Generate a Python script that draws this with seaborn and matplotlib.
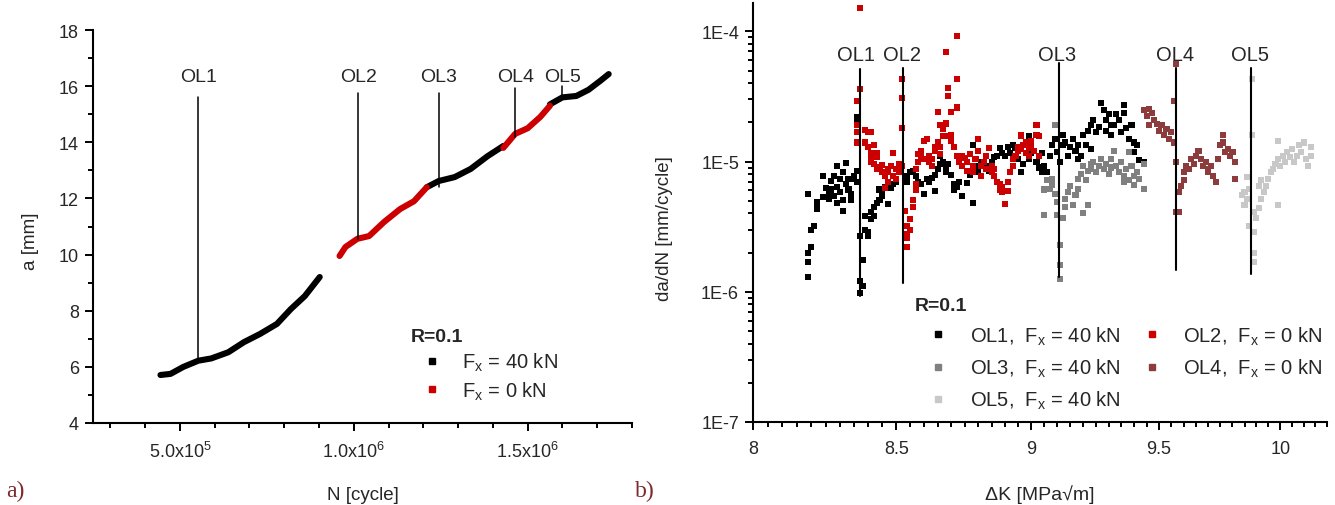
import matplotlib
matplotlib.use("Agg")
import numpy as np
import pandas as pd
import matplotlib.pyplot as plt
import seaborn as sns
from matplotlib.lines import Line2D
from matplotlib.ticker import FixedLocator, MultipleLocator, NullFormatter, FuncFormatter, LogLocator

# --- panel a): crack length vs cycles (segments alternate F_x = 40 kN / 0 kN)
seg1_N = [4.44e5, 4.73e5, 5.10e5, 5.53e5, 5.90e5, 6.39e5, 6.84e5, 7.30e5, 7.79e5, 8.19e5, 8.59e5, 9.02e5]
seg1_a = [5.71, 5.75, 6.00, 6.22, 6.30, 6.52, 6.88, 7.17, 7.53, 8.06, 8.52, 9.20]
seg2_N = [9.59e5, 9.76e5, 1.01e6, 1.044e6, 1.087e6, 1.133e6, 1.173e6, 1.21e6]
seg2_a = [9.95, 10.27, 10.56, 10.66, 11.16, 11.62, 11.90, 12.40]
seg3_N = [1.21e6, 1.244e6, 1.29e6, 1.336e6, 1.384e6, 1.43e6]
seg3_a = [12.40, 12.62, 12.76, 13.05, 13.50, 13.87]
seg4_N = [1.43e6, 1.464e6, 1.50e6, 1.536e6, 1.564e6]
seg4_a = [13.80, 14.30, 14.50, 14.90, 15.30]
seg5_N = [1.564e6, 1.60e6, 1.64e6, 1.675e6, 1.71e6, 1.733e6]
seg5_a = [15.35, 15.60, 15.65, 15.87, 16.20, 16.43]
seg_load = ["40", "0", "40", "0", "40"]

# overload markers in panel a): N, top of line, bottom of line
ol_names = ["OL1", "OL2", "OL3", "OL4", "OL5"]
olA_N = [5.53e5, 1.013e6, 1.244e6, 1.464e6, 1.60e6]
olA_top = [15.6, 15.75, 15.75, 15.93, 16.0]
olA_bot = [6.22, 10.55, 12.4, 14.2, 15.6]
olA_label_a = 16.35

# --- panel b): da/dN vs dK, (dK, da/dN) pairs
ol1_pts = [(8.19, 5.6e-6), (8.20, 3.0e-6), (8.21, 3.2e-6), (8.20, 2.2e-6), (8.19, 2.0e-6), (8.19, 1.7e-6), (8.19, 1.3e-6),
           (8.22, 4.3e-6), (8.22, 4.9e-6), (8.22, 4.8e-6), (8.24, 5.3e-6), (8.24, 7.8e-6), (8.25, 6.3e-6), (8.26, 5.6e-6),
           (8.26, 5.2e-6), (8.27, 7.1e-6), (8.27, 6.1e-6), (8.28, 5.4e-6), (8.28, 7.7e-6), (8.29, 6.4e-6), (8.29, 9.3e-6),
           (8.29, 4.8e-6), (8.30, 5.8e-6), (8.30, 7.3e-6), (8.31, 8.3e-6), (8.31, 4.2e-6), (8.31, 5.1e-6), (8.32, 6.7e-6),
           (8.32, 9.7e-6), (8.33, 7.3e-6), (8.33, 6.1e-6), (8.34, 5.6e-6), (8.34, 5.1e-6), (8.35, 7.7e-6), (8.35, 7.3e-6),
           (8.36, 8.4e-6), (8.36, 7.0e-6), (8.36, 2.2e-5), (8.36, 2.0e-5), (8.37, 2.7e-6), (8.37, 1.2e-6), (8.38, 1.1e-6),
           (8.37, 9.8e-7), (8.38, 1.75e-6), (8.39, 3.0e-6), (8.39, 3.8e-6), (8.40, 2.9e-6), (8.40, 2.7e-6), (8.41, 3.6e-6),
           (8.41, 4.1e-6), (8.42, 3.8e-6), (8.42, 4.5e-6), (8.43, 4.8e-6), (8.44, 5.1e-6), (8.44, 6.1e-6), (8.45, 5.4e-6),
           (8.45, 5.8e-6), (8.46, 6.4e-6), (8.47, 4.7e-6), (8.47, 6.9e-6), (8.48, 6.3e-6), (8.49, 6.7e-6), (8.50, 7.0e-6),
           (8.54, 7.7e-6), (8.54, 7.0e-6), (8.55, 8.3e-6), (8.56, 8.4e-6), (8.57, 7.7e-6), (8.58, 7.0e-6), (8.59, 6.7e-6),
           (8.60, 5.6e-6), (8.61, 7.3e-6), (8.62, 7.0e-6), (8.63, 7.5e-6), (8.64, 5.9e-6), (8.64, 7.9e-6), (8.65, 8.7e-6),
           (8.66, 1.1e-5), (8.66, 9.6e-6), (8.67, 1.0e-5), (8.68, 9.0e-6), (8.68, 8.3e-6), (8.69, 9.6e-6), (8.70, 7.9e-6),
           (8.71, 6.1e-6), (8.71, 6.7e-6), (8.72, 6.4e-6), (8.73, 7.0e-6), (8.74, 5.4e-6), (8.76, 6.9e-6), (8.77, 7.9e-6),
           (8.78, 4.8e-6), (8.78, 1.35e-5), (8.79, 9.2e-6), (8.80, 8.3e-6), (8.81, 9.9e-6), (8.83, 9.2e-6), (8.84, 8.4e-6),
           (8.85, 9.9e-6), (8.86, 1.08e-5), (8.87, 1.1e-5), (8.88, 1.27e-5), (8.89, 1.17e-5), (8.90, 1.1e-5), (8.91, 1.3e-5),
           (8.92, 1.17e-5), (8.93, 1.35e-5), (8.94, 1.27e-5), (8.95, 1.04e-5), (8.96, 8.3e-6), (8.97, 9.6e-6), (8.99, 1.56e-5),
           (8.99, 1.04e-5), (9.00, 1.17e-5), (9.02, 9.9e-6), (9.03, 9.0e-6), (9.04, 1.17e-5), (9.04, 8.3e-6), (9.05, 9.2e-6),
           (9.06, 8.3e-6), (9.07, 1.1e-5), (9.08, 1.33e-5), (9.09, 1.5e-5), (9.10, 1.18e-5), (9.11, 1.0e-5), (9.12, 1.6e-5),
           (9.12, 1.33e-5), (9.13, 1.4e-5), (9.14, 1.1e-5), (9.15, 1.3e-5), (9.16, 1.5e-5), (9.17, 1.2e-5), (9.18, 1.05e-5),
           (9.18, 1.33e-5), (9.19, 1.1e-5), (9.20, 1.6e-5), (9.21, 1.33e-5), (9.22, 1.73e-5), (9.23, 1.25e-5), (9.23, 1.9e-5),
           (9.24, 2.1e-5), (9.25, 1.7e-5), (9.26, 1.85e-5), (9.27, 2.8e-5), (9.28, 2.5e-5), (9.29, 2.1e-5), (9.29, 1.73e-5),
           (9.30, 2.3e-5), (9.31, 1.9e-5), (9.31, 1.6e-5), (9.32, 1.9e-5), (9.33, 2.3e-5), (9.34, 2.1e-5), (9.35, 1.7e-5),
           (9.36, 2.35e-5), (9.36, 2.7e-5), (9.37, 1.8e-5), (9.38, 1.5e-5), (9.39, 1.9e-5), (9.40, 1.4e-5), (9.40, 1.18e-5),
           (9.41, 1.33e-5), (9.42, 1.02e-5), (9.44, 1.0e-5)]
ol2_pts = [(8.37, 1.5e-4), (8.37, 3.6e-5), (8.36, 2.9e-5), (8.36, 1.9e-5), (8.36, 1.7e-5), (8.36, 1.4e-5), (8.39, 1.75e-5),
           (8.40, 1.7e-5), (8.41, 1.7e-5), (8.39, 1.4e-5), (8.40, 1.3e-5), (8.42, 1.35e-5), (8.41, 1.17e-5), (8.41, 1.1e-5),
           (8.43, 1.16e-5), (8.43, 1.08e-5), (8.41, 9.9e-6), (8.42, 9.6e-6), (8.49, 1.16e-5), (8.43, 8.7e-6), (8.44, 9.0e-6),
           (8.45, 8.3e-6), (8.45, 9.4e-6), (8.46, 7.7e-6), (8.47, 8.7e-6), (8.47, 7.0e-6), (8.46, 6.3e-6), (8.47, 8.3e-6),
           (8.48, 9.2e-6), (8.49, 7.7e-6), (8.50, 8.7e-6), (8.50, 7.3e-6), (8.51, 9.6e-6), (8.51, 8.3e-6), (8.52, 9.2e-6),
           (8.52, 4.3e-5), (8.52, 3.1e-5), (8.52, 1.8e-5), (8.53, 4.2e-6), (8.54, 3.2e-6), (8.54, 2.6e-6), (8.54, 2.2e-6),
           (8.54, 2.8e-6), (8.55, 3.0e-6), (8.55, 3.6e-6), (8.56, 4.5e-6), (8.56, 5.1e-6), (8.57, 6.1e-6), (8.57, 6.7e-6),
           (8.57, 8.7e-6), (8.58, 9.9e-6), (8.58, 1.14e-5), (8.59, 1.08e-5), (8.59, 1.2e-5), (8.60, 1.04e-5), (8.60, 1.44e-5),
           (8.61, 1.5e-5), (8.62, 9.9e-6), (8.62, 1.1e-5), (8.63, 9.2e-6), (8.63, 1.04e-5), (8.64, 1.3e-5), (8.64, 1.2e-5),
           (8.65, 2.4e-5), (8.65, 1.4e-5), (8.66, 1.9e-5), (8.66, 1.14e-5), (8.66, 1.3e-5), (8.67, 1.56e-5), (8.67, 1.77e-5),
           (8.68, 1.93e-5), (8.68, 1.97e-5), (8.68, 6.9e-5), (8.69, 3.65e-5), (8.69, 3.2e-5), (8.69, 1.56e-5), (8.70, 1.44e-5),
           (8.70, 2.4e-5), (8.70, 1.6e-5), (8.72, 9.2e-5), (8.72, 4.3e-5), (8.72, 2.6e-5), (8.71, 1.3e-5), (8.72, 1.1e-5),
           (8.73, 9.9e-6), (8.74, 1.1e-5), (8.74, 9.2e-6), (8.75, 1.06e-5), (8.76, 8.4e-6), (8.76, 9.9e-6), (8.77, 1.14e-5),
           (8.78, 9.2e-6), (8.78, 8.3e-6), (8.79, 1.04e-5), (8.80, 1.48e-5), (8.80, 1.2e-5), (8.81, 9.2e-6), (8.81, 7.7e-6),
           (8.82, 9.9e-6), (8.83, 8.7e-6), (8.83, 1.1e-5), (8.84, 1.27e-5), (8.85, 9.2e-6), (8.85, 8.3e-6), (8.86, 8.7e-6),
           (8.86, 7.7e-6), (8.87, 7.0e-6), (8.88, 6.7e-6), (8.88, 6.1e-6), (8.89, 5.8e-6), (8.89, 6.4e-6), (8.90, 4.7e-6),
           (8.91, 5.9e-6), (8.91, 7.0e-6), (8.92, 8.3e-6), (8.93, 9.2e-6), (8.93, 1.04e-5), (8.94, 1.1e-5), (8.95, 1.2e-5),
           (8.95, 1.3e-5), (8.96, 1.56e-5), (8.96, 1.24e-5), (8.97, 1.35e-5), (8.98, 1.17e-5), (8.98, 1.4e-5), (8.99, 1.27e-5),
           (8.99, 1.1e-5), (9.00, 1.44e-5), (9.00, 1.3e-5), (9.01, 1.2e-5), (9.02, 1.6e-5), (9.02, 1.9e-5), (9.03, 1.56e-5),
           (9.03, 1.1e-5), (8.96, 1.6e-5)]
ol3_pts = [(9.05, 6.1e-6), (9.05, 3.9e-6), (9.06, 7.2e-6), (9.07, 6.2e-6), (9.08, 6.6e-6), (9.08, 7.4e-6), (9.09, 1.9e-5),
           (9.09, 5.6e-6), (9.10, 4.9e-6), (9.10, 3.9e-6), (9.11, 2.3e-6), (9.11, 1.6e-6), (9.11, 1.25e-6), (9.12, 3.7e-6),
           (9.13, 4.5e-6), (9.13, 5.2e-6), (9.14, 5.8e-6), (9.15, 6.5e-6), (9.16, 4.6e-6), (9.17, 5.5e-6), (9.18, 6.2e-6),
           (9.18, 7.4e-6), (9.19, 8.0e-6), (9.20, 9.3e-6), (9.21, 7.2e-6), (9.22, 8.5e-6), (9.23, 9.6e-6), (9.23, 8.8e-6),
           (9.24, 1.0e-5), (9.25, 8.3e-6), (9.26, 9.3e-6), (9.27, 1.05e-5), (9.28, 8.8e-6), (9.29, 9.6e-6), (9.30, 8.0e-6),
           (9.31, 9.0e-6), (9.31, 1.05e-5), (9.32, 1.2e-5), (9.33, 9.3e-6), (9.34, 8.3e-6), (9.35, 1.0e-5), (9.36, 7.8e-6),
           (9.36, 7.0e-6), (9.37, 8.8e-6), (9.38, 7.2e-6), (9.39, 9.3e-6), (9.40, 7.8e-6), (9.40, 6.6e-6), (9.41, 8.3e-6),
           (9.42, 7.4e-6), (9.44, 6.2e-6), (9.44, 9.6e-6), (9.38, 1.18e-5), (9.20, 4.0e-6), (9.22, 4.6e-6)]
ol4_pts = [(9.44, 2.5e-5), (9.45, 2.25e-5), (9.46, 2.55e-5), (9.46, 1.9e-5), (9.47, 2.35e-5), (9.48, 2.1e-5), (9.49, 1.95e-5),
           (9.50, 1.73e-5), (9.51, 1.9e-5), (9.52, 1.6e-5), (9.53, 1.78e-5), (9.54, 1.5e-5), (9.55, 1.7e-5), (9.56, 1.4e-5),
           (9.56, 2.9e-5), (9.57, 5.6e-5), (9.57, 1.0e-5), (9.58, 4.1e-6), (9.58, 5.8e-6), (9.59, 6.5e-6), (9.60, 8.3e-6),
           (9.60, 7.2e-6), (9.61, 9.3e-6), (9.62, 8.8e-6), (9.63, 1.05e-5), (9.64, 9.6e-6), (9.65, 1.1e-5), (9.66, 1.2e-5),
           (9.67, 1.05e-5), (9.68, 9.3e-6), (9.69, 1.0e-5), (9.70, 8.8e-6), (9.70, 8.3e-6), (9.71, 9.3e-6), (9.72, 7.8e-6),
           (9.73, 7.0e-6), (9.74, 1.05e-5), (9.75, 1.33e-5), (9.76, 1.6e-5), (9.76, 1.4e-5), (9.77, 1.18e-5), (9.78, 1.25e-5),
           (9.79, 1.1e-5), (9.80, 1.18e-5), (9.81, 1.0e-5), (9.81, 7.4e-6), (9.57, 4.1e-6)]
ol5_pts = [(9.86, 7.6e-6), (9.84, 5.5e-6), (9.85, 4.6e-6), (9.85, 5.8e-6), (9.86, 5.2e-6), (9.87, 6.2e-6), (9.88, 1.6e-5),
           (9.88, 4.3e-5), (9.87, 3.2e-6), (9.89, 4.1e-6), (9.89, 2.0e-6), (9.89, 1.7e-6), (9.89, 2.9e-6), (9.90, 3.7e-6),
           (9.91, 4.4e-6), (9.92, 5.2e-6), (9.93, 5.8e-6), (9.94, 6.5e-6), (9.95, 7.4e-6), (9.96, 8.3e-6), (9.97, 8.8e-6),
           (9.98, 9.6e-6), (9.99, 1.05e-5), (9.99, 1.45e-5), (10.00, 9.3e-6), (10.01, 1.1e-5), (10.02, 1.0e-5), (10.03, 1.18e-5),
           (10.04, 1.08e-5), (10.05, 1.25e-5), (10.06, 1.0e-5), (10.07, 1.1e-5), (10.08, 1.33e-5), (10.09, 1.18e-5),
           (10.10, 1.4e-5), (10.11, 1.05e-5), (10.12, 9.3e-6), (10.13, 1.3e-5), (10.13, 1.1e-5), (9.99, 4.6e-6),
           (9.91, 6.5e-6), (9.92, 7.2e-6)]

# overload markers in panel b)
olB_dK = [8.37, 8.526, 9.106, 9.569, 9.878]
olB_label_dK = [8.355, 8.52, 9.10, 9.565, 9.875]
olB_top = [5.1e-5, 5.2e-5, 5.7e-5, 5.2e-5, 5.2e-5]
olB_bot = [9.3e-7, 1.17e-6, 1.29e-6, 1.47e-6, 1.37e-6]
olB_label_y = 6.66e-5

series_names = ["OL1", "OL2", "OL3", "OL4", "OL5"]
series_load = ["40", "0", "40", "0", "40"]
series_colors = {"OL1": "#000000", "OL2": "#cc0000", "OL3": "#808080", "OL4": "#8c3c3c", "OL5": "#c8c8c8"}
load_colors = {"40": "#000000", "0": "#cc0000"}

sns.set_style("ticks")
plt.rcParams['font.family'] = ['Liberation Sans', 'DejaVu Sans']
plt.rcParams['mathtext.fontset'] = 'custom'
plt.rcParams['mathtext.rm'] = 'Liberation Sans'
plt.rcParams['mathtext.it'] = 'Liberation Sans'
plt.rcParams['mathtext.default'] = 'regular'
FS = 13      # tick labels
FS_L = 13.5  # axis labels
FS_T = 14.5  # overload labels and legends

W, H = 1335, 506
fig = plt.figure(figsize=(W / 100, H / 100), dpi=100)
axA = fig.add_axes([93 / W, 1 - 424 / H, (632 - 93) / W, (424 - 31) / H])
axB = fig.add_axes([753 / W, 1 - 423 / H, (1327 - 753) / W, (423 - 4) / H])

# ---------------- panel a)
rows = []
for i, (ns, avals) in enumerate([(seg1_N, seg1_a), (seg2_N, seg2_a), (seg3_N, seg3_a),
                                 (seg4_N, seg4_a), (seg5_N, seg5_a)]):
    for n, a in zip(ns, avals):
        rows.append({"N": n, "a": a, "load": seg_load[i], "seg": i})
df_a = pd.DataFrame(rows)
sns.lineplot(data=df_a, x="N", y="a", hue="load", units="seg", estimator=None, sort=False,
             palette=load_colors, lw=4.4, legend=False, ax=axA)

for name, n, top, bot in zip(ol_names, olA_N, olA_top, olA_bot):
    axA.plot([n, n], [bot, top], color="black", lw=1.1)
    axA.text(n, olA_label_a, name, ha="center", va="center", fontsize=FS_T - 0.5)

axA.set_xlim(2.5e5, 1.8e6)
axA.set_ylim(4, 18)
axA.xaxis.set_major_locator(FixedLocator([5e5, 1e6, 1.5e6]))
axA.xaxis.set_minor_locator(MultipleLocator(1e5))


def sci_fmt(v, pos):
    e = int(np.floor(np.log10(v)))
    return r"%.1fx10$^{%d}$" % (v / 10 ** e, e)


axA.xaxis.set_major_formatter(FuncFormatter(sci_fmt))
axA.yaxis.set_major_locator(MultipleLocator(2))
axA.yaxis.set_minor_locator(MultipleLocator(1))
axA.set_xlabel("N [cycle]", fontsize=FS_L)
axA.set_ylabel("a [mm]", fontsize=FS_L)
axA.xaxis.set_label_coords(0.5, -0.16)
axA.yaxis.set_label_coords(-0.100, 0.466)

hA = [Line2D([], [], marker="s", ls="none", color=load_colors[k], markersize=4) for k in ["40", "0"]]
lA = [r"F$_x$ = 40 kN", r"F$_x$ = 0 kN"]
legA = axA.legend(hA, lA, title="R=0.1", loc="upper left", bbox_to_anchor=(0.57, 0.267),
                  frameon=False, fontsize=FS_T, borderpad=0, handlelength=2.2, handletextpad=0.35,
                  labelspacing=0.3, alignment="left",
                  title_fontproperties={"weight": "bold", "size": FS_T - 0.5})

# ---------------- panel b)
rows = []
for name, pts in zip(series_names, [ol1_pts, ol2_pts, ol3_pts, ol4_pts, ol5_pts]):
    for dk, da in pts:
        rows.append({"dK": dk, "dadn": da, "series": name})
df_b = pd.DataFrame(rows)
axB.set_xscale("log")
axB.set_yscale("log")
sns.scatterplot(data=df_b, x="dK", y="dadn", hue="series", palette=series_colors, marker="s",
                s=19, linewidth=0, legend=False, ax=axB)

for name, dk, ldk, top, bot in zip(ol_names, olB_dK, olB_label_dK, olB_top, olB_bot):
    axB.plot([dk, dk], [bot, top], color="black", lw=1.5)
    axB.text(ldk, olB_label_y, name, ha="center", va="center", fontsize=FS_T)

axB.set_xlim(8, 10.2)
axB.set_ylim(1e-7, 1.65e-4)
axB.xaxis.set_major_locator(FixedLocator([8, 8.5, 9, 9.5, 10]))
axB.xaxis.set_major_formatter(FuncFormatter(lambda v, p: "%g" % v))
axB.xaxis.set_minor_locator(FixedLocator(np.arange(8.0, 10.201, 0.05)))
axB.xaxis.set_minor_formatter(NullFormatter())
axB.yaxis.set_major_locator(FixedLocator([1e-7, 1e-6, 1e-5, 1e-4]))
axB.yaxis.set_major_formatter(FuncFormatter(lambda v, p: "1E%d" % int(round(np.log10(v)))))
axB.yaxis.set_minor_locator(LogLocator(base=10, subs=np.arange(2, 10)))
axB.yaxis.set_minor_formatter(NullFormatter())
axB.set_xlabel("ΔK [MPa√m]", fontsize=FS_L + 0.5)
axB.set_ylabel("da/dN [mm/cycle]", fontsize=FS_L)
axB.xaxis.set_label_coords(0.5, -0.148)
axB.yaxis.set_label_coords(-0.139, 0.463)

order = ["OL1", "OL3", "OL5", "OL2", "OL4"]
hB = [Line2D([], [], marker="s", ls="none", color=series_colors[k], markersize=4) for k in order]
lB = [r"%s,  F$_x$ = %s kN" % (k, series_load[series_names.index(k)]) for k in order]
legB = axB.legend(hB, lB, title="R=0.1", loc="upper left", bbox_to_anchor=(0.265, 0.322), ncol=2,
                  frameon=False, fontsize=FS_T, borderpad=0, handlelength=2.3, handletextpad=0.4,
                  labelspacing=0.5, columnspacing=0.4, alignment="left",
                  title_fontproperties={"weight": "bold", "size": FS_T - 0.5})

for ax in (axA, axB):
    sns.despine(ax=ax)
    for sp in ("left", "bottom"):
        ax.spines[sp].set_linewidth(1.5)
        ax.spines[sp].set_color("black")
    ax.tick_params(which="major", direction="out", length=6, width=1.4, color="black",
                   labelsize=FS, pad=4)
    ax.tick_params(which="minor", direction="out", length=3.5, width=1.4, color="black")
    ax.tick_params(axis="x", which="major", pad=7)
    ax.grid(False)

fig.text(6 / W, 1 - 491 / H, "a)", fontfamily=["Liberation Serif", "DejaVu Serif"],
         color="#7a2b2b", fontsize=17, va="center")
fig.text(635 / W, 1 - 491 / H, "b)", fontfamily=["Liberation Serif", "DejaVu Serif"],
         color="#7a2b2b", fontsize=17, va="center")

fig.savefig("out.png", dpi=100)
